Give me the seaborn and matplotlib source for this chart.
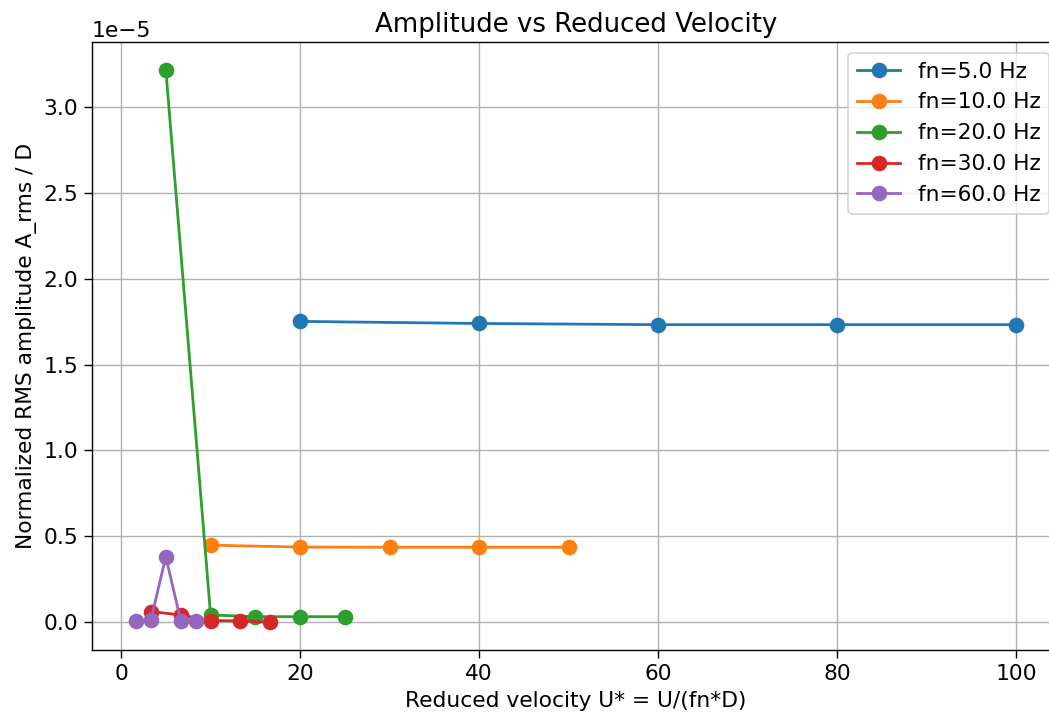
import pandas as pd
import matplotlib
matplotlib.use("Agg")
import matplotlib.pyplot as plt
import seaborn as sns

# natural frequencies (Hz) and reduced velocities U* = U/(fn*D)
fn_values = [5.0, 10.0, 20.0, 30.0, 60.0]
u_star = {
    5.0: [20, 40, 60, 80, 100],
    10.0: [10, 20, 30, 40, 50],
    20.0: [5, 10, 15, 20, 25],
    30.0: [3.333, 6.667, 10, 13.333, 16.667],
    60.0: [1.667, 3.333, 5, 6.667, 8.333],
}
# normalized RMS amplitude (x1e-5)
amp = {
    5.0: [1.752, 1.740, 1.733, 1.733, 1.733],
    10.0: [0.447, 0.436, 0.435, 0.435, 0.435],
    20.0: [3.22, 0.040, 0.030, 0.030, 0.030],
    30.0: [0.060, 0.040, 0.007, 0.006, -0.003],
    60.0: [0.005, 0.012, 0.38, 0.006, 0.006],
}

rows = []
for fn in fn_values:
    for u, a in zip(u_star[fn], amp[fn]):
        rows.append({"fn": f"fn={fn} Hz", "U*": u, "A": a * 1e-5})
df = pd.DataFrame(rows)

plt.rcParams.update({
    "font.size": 12.5,
    "axes.titlesize": 15,
    "axes.labelsize": 12.5,
    "xtick.labelsize": 12.5,
    "ytick.labelsize": 12.5,
    "legend.fontsize": 12.5,
    "xtick.major.size": 4.4,
    "ytick.major.size": 4.4,
})

fig, ax = plt.subplots(figsize=(8.392, 5.704), dpi=125)

sns.lineplot(
    data=df, x="U*", y="A", hue="fn",
    palette="tab10", marker="o", markersize=9,
    markeredgewidth=0, linewidth=1.6, sort=False, ax=ax
)

ax.set_title("Amplitude vs Reduced Velocity")
ax.set_xlabel("Reduced velocity U* = U/(fn*D)")
ax.set_ylabel("Normalized RMS amplitude A_rms / D")
ax.grid(True)
ax.legend(title=None, loc="upper right")

# the reference is cropped just inside the right spine
fig.subplots_adjust(left=0.0877, right=1.0105, top=0.941, bottom=0.0884)
plt.savefig("out.png")
